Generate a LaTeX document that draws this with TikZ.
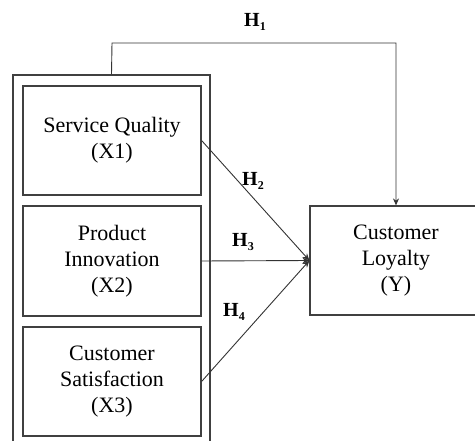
\documentclass[tikz,border=0pt]{standalone}
\usepackage{fontspec}
\setmainfont{Liberation Serif}
\usepackage{tikz}
\usetikzlibrary{arrows.meta, positioning, calc}

\newcommand{\hyp}[1]{\textbf{H}\raisebox{-0.45ex}{\fontsize{12}{12}\selectfont\textbf{#1}}}

\begin{document}
\begin{tikzpicture}[x=1pt, y=-1pt,
		var/.style={draw=black!75, line width=1.2pt, align=center, inner sep=0pt,
			font=\fontsize{22}{26}\selectfont},
		link/.style={draw=black!80, line width=0.9pt, -{Stealth[length=7pt,width=6pt]}},
		hlab/.style={font=\fontsize{20}{20}\selectfont}]
		\useasboundingbox (0,0) rectangle (475,441);

		% Independent variables
		\node[var, minimum width=197pt, minimum height=380pt] (grp) at (111.5,265) {};
		\node[var, minimum width=178pt, minimum height=109pt] (sq) at (112,140.5) {Service Quality\\(X1)};
		\node[var, minimum width=178pt, minimum height=110pt] (pi) at (112,261) {Product\\Innovation\\(X2)};
		\node[var, minimum width=178pt, minimum height=109pt] (cs) at (112,381.5) {Customer\\Satisfaction\\(X3)};

		% Dependent variable
		\node[var, minimum width=172pt, minimum height=109pt] (cl) at (396,260.5) {Customer\\Loyalty\\(Y)};

		% Hypotheses
		\coordinate (bend) at (112,43);
		\draw[link] (grp.north) -- (bend) -| (cl.north);
		\draw[link] (sq.east) -- (cl.west);
		\draw[link] (pi.east) -- (cl.west);
		\draw[link] (cs.east) -- (cl.west);

		\node[hlab] (h1) at (255,22) {\hyp{1}};
		\node[hlab] (h2) at (253,181) {\hyp{2}};
		\node[hlab] (h3) at (243,242) {\hyp{3}};
		\node[hlab] (h4) at (234,312) {\hyp{4}};
	\end{tikzpicture}
\end{document}
